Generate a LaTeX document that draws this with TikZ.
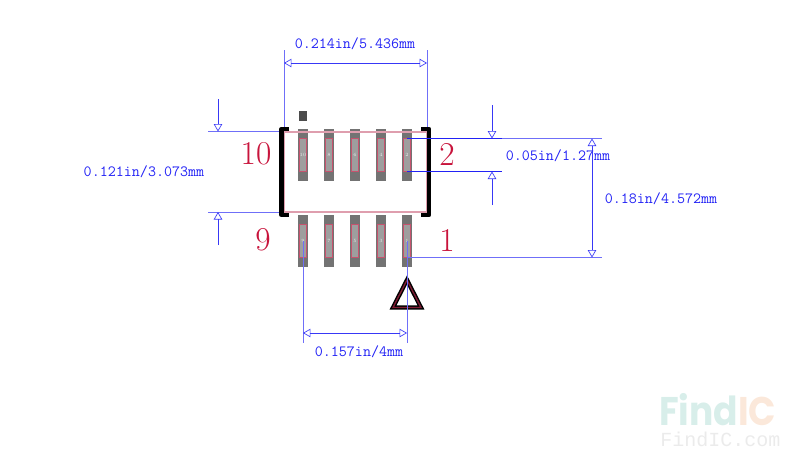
\documentclass[tikz,border=0pt]{standalone}
\usepackage{fontspec}
\usepackage{xcolor}
\usetikzlibrary{arrows,calc,positioning}
\newfontfamily\markfont{Poppins}
\newfontfamily\markmono{Liberation Mono}
\definecolor{dimblue}{HTML}{2222F5}
\definecolor{padred}{HTML}{B8284A}
\definecolor{pinred}{HTML}{C8143C}
\tikzset{
	dimline/.style={color=dimblue!65,line width=0.7pt},
	dimarrow/.style={color=dimblue!90,line width=0.5pt,>=open triangle 60},
	dimtext/.style={color=dimblue,font=\fontsize{11.7}{12}\ttfamily},
	pinlabel/.style={color=pinred,font=\fontsize{25}{26}\rmfamily},
	padnum/.style={color=white!85!gray,font=\fontsize{3.6}{4}\rmfamily,inner sep=0pt}
}
\begin{document}
\begin{tikzpicture}[x=0.75pt,y=-0.75pt]
	\useasboundingbox (0,0) rectangle (800,465);
	% pads, upper row then lower row
	\foreach \x/\n in {303/10,329/8,355/6,381/4,407/2}{
		\fill[fill=black!55] (\x-5,129) rectangle (\x+5,181);
		\draw[color=padred!80,fill=black!38,line width=1pt] (\x-3.7,138.5) rectangle (\x+3.7,171.5);
		\node[padnum] (up\n) at (\x,155) {\n};
	}
	\foreach \x/\n in {303/9,329/7,355/5,381/3,407/1}{
		\fill[fill=black!55] (\x-5,215) rectangle (\x+5,267);
		\draw[color=padred!80,fill=black!38,line width=1pt] (\x-3.7,224.5) rectangle (\x+3.7,257.5);
		\node[padnum] (low\n) at (\x,241) {\n};
	}
	\draw[fill=black!45,color=black!70,line width=0.6pt] (299.5,111.5) rectangle (306.5,120.5);
	% top and left dimension
	\draw[dimline] (284,50) -- (284,131);
	\draw[dimline] (427,50) -- (427,131);
	\draw[dimarrow,<->] (284,63) -- (427,63);
	\node[dimtext] (dimtop) at (355,44) {0.214in/5.436mm};
	\draw[dimline] (208,131.5) -- (284,131.5);
	\draw[dimline] (208,212) -- (284,212);
	\draw[dimarrow,->] (218,99) -- (218,131.5);
	\draw[dimarrow,->] (218,245) -- (218,212);
	\node[dimtext] (dimleft) at (144,172) {0.121in/3.073mm};
	% outline and corners
	\draw[color=padred!45,line width=1.5pt] (284,131.5) rectangle (427,212);
	\draw[line width=3.2pt,line join=round] (289,129) -- (281.5,129) -- (281.5,215) -- (289,215);
	\draw[line width=3.2pt,line join=round] (421,129) -- (429,129) -- (429,215) -- (421,215);
	% triangle
	\draw[line width=3.2pt] (407,280) -- (393,307.5) -- (421,307.5) -- cycle;
	\draw[color=padred!70!black,line width=1pt] (407,280) -- (393,307.5) -- (421,307.5) -- cycle;
	% pin names
	\node[pinlabel] (p10) at (256,154) {10};
	\node[pinlabel] (p2) at (447,154) {2};
	\node[pinlabel] (p9) at (263,240) {9};
	\node[pinlabel] (p1) at (447,240) {1};
	% pitch dimension
	\draw[color=dimblue,line width=0.7pt] (407,138.5) -- (502,138.5);
	\draw[dimline] (502,138.5) -- (602,138.5);
	\draw[color=dimblue,line width=0.6pt] (407,171.5) -- (502,171.5);
	\draw[dimarrow,->] (492,105) -- (492,138.5);
	\draw[dimarrow,->] (492,205) -- (492,171.5);
	\node[dimtext] (dimpitch) at (558,156) {0.05in/1.27mm};
	% height dimension
	\draw[dimline] (407,257.5) -- (602,257.5);
	\draw[dimarrow,<->] (592,138.5) -- (592,257.5);
	\node[dimtext] (dimheight) at (661,199) {0.18in/4.572mm};
	% bottom dimension
	\draw[dimline] (303,241) -- (303,343);
	\draw[dimline] (407,241) -- (407,343);
	\draw[dimarrow,<->] (303,333) -- (407,333);
	\node[dimtext] (dimbottom) at (359,352) {0.157in/4mm};
	% watermark
	\node[inner sep=0pt,anchor=base west,xscale=0.9,font=\fontsize{30}{30}\markfont\bfseries] (logo) at (659,425) {\textcolor[HTML]{D8EEEA}{Find}\textcolor[HTML]{FBE8DA}{IC}};
	\node[inner sep=0pt,anchor=base west,color=black!8,font=\fontsize{15}{15}\markmono] (site) at (660,446) {FindIC.com};
\end{tikzpicture}
\end{document}
